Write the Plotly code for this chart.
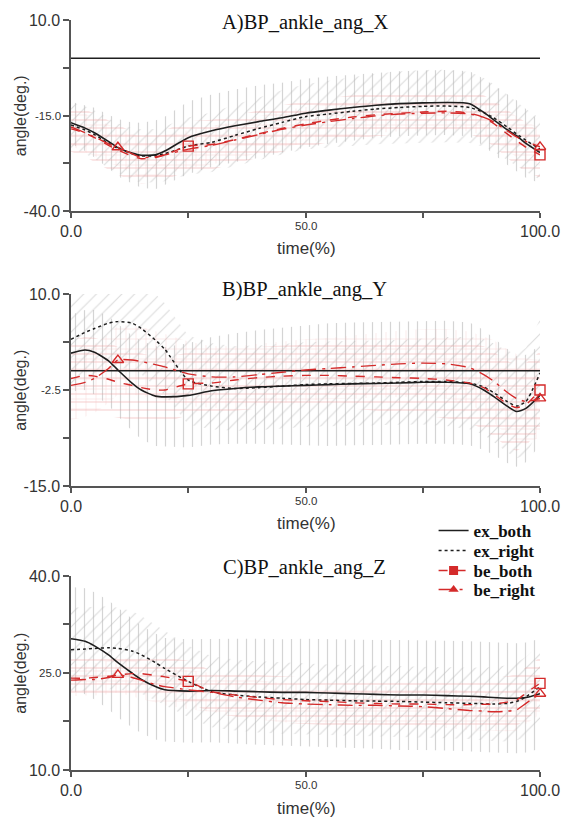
import plotly.graph_objects as go

# ---------------- data ----------------
T = [0, 3, 5, 8, 10, 13, 15, 18, 20, 25, 30, 35, 40, 45, 50, 55, 60, 65, 70, 75, 80, 85, 88, 90, 93, 95, 97, 100]

# Panel A : BP_ankle_ang_X
A_EX_BOTH = [-16.9, -18.3, -19.5, -21.8, -23.4, -24.8, -25.4, -25.3, -24.3, -20.8, -19.0, -17.7, -16.6, -15.6, -14.4, -13.6, -12.9, -12.3, -11.9, -11.7, -11.6, -11.9, -14.2, -16.0, -18.7, -20.3, -22.3, -24.7]
A_EX_RIGHT = [-17.5, -18.8, -20.0, -22.3, -23.6, -25.0, -25.6, -25.5, -25.0, -23.0, -22.0, -20.2, -18.4, -16.8, -15.3, -14.6, -13.9, -13.3, -12.9, -12.6, -12.5, -12.9, -14.2, -15.5, -18.0, -19.8, -21.5, -23.8]
A_BE_BOTH = [-18.5, -19.6, -20.8, -22.8, -24.0, -25.6, -26.3, -26.0, -25.3, -23.0, -22.6, -21.3, -19.8, -18.4, -17.2, -16.2, -15.4, -14.8, -14.4, -14.1, -13.9, -14.4, -15.5, -17.0, -19.8, -21.6, -23.3, -25.3]
A_BE_RIGHT = [-18.0, -19.5, -20.6, -22.4, -23.3, -25.0, -26.0, -25.8, -25.3, -23.8, -22.8, -21.4, -20.0, -18.6, -17.5, -16.6, -15.8, -15.1, -14.6, -14.4, -14.3, -14.6, -15.5, -16.6, -19.0, -20.6, -21.8, -23.2]
A_EX_BOTH_SD = [5.5, 6.0, 6.5, 7.0, 7.5, 8.0, 8.5, 9.0, 9.0, 9.5, 9.5, 9.5, 9.5, 9.2, 9.0, 8.8, 8.6, 8.5, 8.5, 8.5, 8.5, 8.5, 8.8, 9.0, 9.2, 9.3, 9.0, 8.0]
A_EX_RIGHT_SD = [6.0, 6.2, 6.3, 6.5, 6.5, 6.8, 7.0, 7.0, 7.2, 7.5, 7.8, 8.0, 8.2, 8.4, 8.5, 8.7, 9.0, 9.2, 9.4, 9.5, 9.5, 9.3, 9.0, 8.8, 8.5, 8.3, 8.2, 8.0]
A_BE_BOTH_SD = [6.0, 6.2, 6.3, 6.4, 6.5, 6.5, 6.5, 6.5, 6.5, 6.5, 6.5, 6.3, 6.2, 6.1, 6.0, 5.8, 5.7, 5.6, 5.5, 5.5, 5.5, 5.5, 5.8, 6.0, 6.3, 6.5, 6.3, 6.0]
A_BE_RIGHT_SD = [5.0, 5.0, 5.0, 5.0, 5.0, 5.2, 5.3, 5.3, 5.2, 5.0, 5.0, 5.0, 4.8, 4.8, 4.7, 4.6, 4.5, 4.5, 4.5, 4.5, 4.5, 4.6, 4.8, 5.0, 5.2, 5.3, 5.2, 5.0]

# Panel B : BP_ankle_ang_Y
B_EX_BOTH = [2.3, 2.7, 2.4, 1.3, 0.1, -1.6, -2.5, -3.3, -3.4, -3.2, -2.6, -2.3, -2.1, -2.0, -1.9, -1.8, -1.7, -1.65, -1.6, -1.5, -1.5, -1.7, -2.5, -3.3, -4.6, -5.3, -4.9, -3.2]
B_EX_RIGHT = [4.1, 5.0, 5.5, 6.2, 6.4, 6.2, 5.5, 4.0, 2.8, -1.2, -2.0, -2.3, -2.2, -2.0, -1.8, -1.7, -1.65, -1.6, -1.5, -1.4, -1.4, -1.6, -2.1, -2.8, -4.0, -4.6, -4.0, -0.3]
B_BE_BOTH = [-1.0, -0.6, -0.7, -1.1, -1.5, -1.9, -2.2, -2.5, -2.5, -1.7, -1.6, -1.2, -0.9, -0.7, -0.6, -0.6, -0.7, -0.8, -0.9, -1.0, -1.2, -1.6, -2.2, -3.0, -4.3, -4.8, -4.4, -2.5]
B_BE_RIGHT = [-1.9, -1.5, -1.0, 0.3, 1.4, 1.4, 1.2, 0.8, 0.5, -0.4, -0.8, -0.8, -0.5, -0.2, 0.1, 0.3, 0.5, 0.7, 0.9, 1.0, 0.9, 0.4, -0.5, -1.3, -2.8, -3.6, -4.0, -3.6]
B_EX_BOTH_SD = [5.0, 5.2, 5.5, 5.8, 6.0, 6.2, 6.4, 6.5, 6.5, 6.8, 7.0, 7.2, 7.4, 7.6, 7.8, 8.0, 8.0, 8.0, 8.0, 8.0, 8.0, 8.0, 7.8, 7.6, 7.4, 7.2, 7.0, 6.5]
B_EX_RIGHT_SD = [6.0, 6.0, 6.0, 6.0, 6.0, 6.0, 6.0, 6.0, 6.0, 5.8, 5.6, 5.5, 5.5, 5.5, 5.5, 5.5, 5.5, 5.5, 5.5, 5.6, 5.8, 6.0, 6.2, 6.4, 6.6, 6.8, 7.0, 7.0]
B_BE_BOTH_SD = [5.0, 5.0, 5.0, 4.8, 4.6, 4.5, 4.4, 4.3, 4.2, 4.1, 4.0, 4.0, 4.0, 4.0, 4.0, 4.1, 4.2, 4.4, 4.6, 4.8, 5.0, 5.2, 5.4, 5.5, 5.6, 5.6, 5.4, 5.0]
B_BE_RIGHT_SD = [4.5, 4.5, 4.5, 4.5, 4.5, 4.5, 4.5, 4.4, 4.3, 4.2, 4.0, 4.0, 4.0, 4.0, 4.0, 4.0, 4.1, 4.2, 4.3, 4.4, 4.5, 4.7, 5.0, 5.3, 5.6, 5.8, 5.6, 5.0]

# Panel C : BP_ankle_ang_Z
C_EX_BOTH = [30.3, 29.9, 29.2, 27.8, 26.6, 25.0, 24.0, 22.9, 22.4, 22.2, 22.3, 22.2, 22.1, 22.0, 22.0, 21.9, 21.8, 21.7, 21.6, 21.6, 21.5, 21.4, 21.3, 21.2, 21.1, 21.1, 21.2, 21.8]
C_EX_RIGHT = [28.6, 28.7, 28.8, 28.9, 28.8, 28.4, 27.8, 26.6, 25.7, 23.7, 22.1, 21.6, 21.3, 21.1, 20.9, 20.8, 20.7, 20.65, 20.6, 20.5, 20.4, 20.3, 20.25, 20.2, 20.3, 20.6, 21.3, 22.9]
C_BE_BOTH = [24.2, 24.2, 24.3, 24.5, 24.7, 24.9, 24.9, 24.6, 24.4, 23.7, 22.1, 21.6, 21.2, 20.9, 20.7, 20.6, 20.4, 20.3, 20.2, 20.2, 20.1, 20.1, 20.15, 20.2, 20.5, 20.8, 21.9, 23.4]
C_BE_RIGHT = [23.9, 24.0, 24.0, 24.3, 24.7, 24.3, 23.9, 23.2, 22.9, 22.4, 22.0, 21.3, 20.8, 20.4, 20.2, 20.1, 20.0, 20.0, 19.9, 19.8, 19.5, 19.2, 19.1, 19.0, 19.1, 19.3, 20.3, 21.8]
C_EX_BOTH_SD = [8.0, 8.2, 8.3, 8.4, 8.5, 8.4, 8.3, 8.2, 8.0, 8.0, 8.0, 8.1, 8.2, 8.2, 8.3, 8.3, 8.4, 8.4, 8.5, 8.5, 8.5, 8.5, 8.5, 8.5, 8.5, 8.5, 8.5, 8.5]
C_EX_RIGHT_SD = [6.5, 6.5, 6.5, 6.4, 6.3, 6.2, 6.0, 5.8, 5.7, 5.5, 5.5, 5.5, 5.5, 5.5, 5.5, 5.5, 5.5, 5.5, 5.5, 5.5, 5.5, 5.5, 5.6, 5.7, 5.9, 6.0, 6.2, 6.5]
C_BE_BOTH_SD = [3.0, 3.0, 3.0, 3.0, 3.0, 3.0, 3.0, 3.0, 3.0, 3.2, 3.3, 3.4, 3.5, 3.6, 3.6, 3.7, 3.8, 3.8, 3.9, 3.9, 4.0, 4.0, 4.0, 4.0, 4.0, 4.0, 4.0, 4.0]
C_BE_RIGHT_SD = [2.5, 2.5, 2.5, 2.6, 2.7, 2.8, 2.8, 2.8, 2.9, 3.0, 3.0, 3.0, 3.0, 3.0, 3.0, 3.0, 3.0, 3.0, 3.0, 3.0, 3.0, 3.0, 3.0, 3.0, 3.1, 3.2, 3.2, 3.2]

SERIES_NAMES = ["ex_both", "ex_right", "be_both", "be_right"]
PANEL_TITLES = ["A)BP_ankle_ang_X", "B)BP_ankle_ang_Y", "C)BP_ankle_ang_Z"]
Y_RANGES = [[-40, 10], [-15, 10], [10, 40]]
Y_TICKS = [[-40, 10], [-15, 10], [10, 40]]                      # large labels
Y_TICKTEXT = [["-40.0", "10.0"], ["-15.0", "10.0"], ["10.0", "40.0"]]
Y_MID_TICK = [-15, -2.5, 25]                                   # small middle label
Y_MID_TEXT = ["-15.0", "-2.5", "25.0"]
Y_MINOR_TICKS = [[-27.5, -15, -2.5], [-8.75, -2.5, 3.75], [17.5, 25, 32.5]]
X_TICKS = [0, 100]
X_TICKTEXT = ["0.0", "100.0"]
X_MID_TICK = 50
X_MID_TEXT = "50.0"
X_MINOR_TICKS = [25, 50, 75]
ZERO_LINE = [True, True, False]
BE_BOTH_MARK_T = [25, 100]
BE_RIGHT_MARK_T = [10, 100]

PANELS = [
    (A_EX_BOTH, A_EX_RIGHT, A_BE_BOTH, A_BE_RIGHT, A_EX_BOTH_SD, A_EX_RIGHT_SD, A_BE_BOTH_SD, A_BE_RIGHT_SD),
    (B_EX_BOTH, B_EX_RIGHT, B_BE_BOTH, B_BE_RIGHT, B_EX_BOTH_SD, B_EX_RIGHT_SD, B_BE_BOTH_SD, B_BE_RIGHT_SD),
    (C_EX_BOTH, C_EX_RIGHT, C_BE_BOTH, C_BE_RIGHT, C_EX_BOTH_SD, C_EX_RIGHT_SD, C_BE_BOTH_SD, C_BE_RIGHT_SD),
]

# ---------------- styles ----------------
RED = "#d42a2a"
BLACK = "#1e1e1e"
LINE_STYLES = [
    dict(color=BLACK, width=1.6, dash="solid"),
    dict(color=BLACK, width=1.5, dash="dot"),
    dict(color=RED, width=1.4, dash="dash"),
    dict(color=RED, width=1.4, dash="longdashdot"),
]
PATTERNS = [
    dict(shape="|", fgcolor="#a9a9a9", size=9, solidity=0.13),
    dict(shape="/", fgcolor="#b9b9b9", size=9, solidity=0.13),
    dict(shape="-", fgcolor="#ec9a9a", size=8, solidity=0.13),
    dict(shape="+", fgcolor="#f2b4b4", size=10, solidity=0.11),
]

FIG_W, FIG_H = 572, 819
ML, MR, MT, MB = 71, 25, 20, 49
PW = FIG_W - ML - MR
PH = FIG_H - MT - MB
DOMAINS = [[0.7453, 1.0], [0.3787, 0.6347], [0.0, 0.2587]]
AXIS_BOTTOM_PX = [211, 486, 770]


def px_x(px):
    return (px - ML) / PW


def px_y(py):
    return (FIG_H - MB - py) / PH


fig = go.Figure()

for p, data in enumerate(PANELS):
    xa = "x" if p == 0 else f"x{p + 1}"
    ya = "y" if p == 0 else f"y{p + 1}"
    means = data[:4]
    sds = data[4:]
    # hatched SD bands
    for k in range(4):
        upper = [m + s for m, s in zip(means[k], sds[k])]
        lower = [m - s for m, s in zip(means[k], sds[k])]
        pat = dict(PATTERNS[k])
        pat["bgcolor"] = "rgba(0,0,0,0)"
        fig.add_trace(go.Scatter(
            x=T + T[::-1], y=upper + lower[::-1], xaxis=xa, yaxis=ya,
            mode="lines", line=dict(width=0, color="rgba(0,0,0,0)"),
            fill="toself", fillcolor="rgba(0,0,0,0)", fillpattern=pat,
            showlegend=False, hoverinfo="skip",
        ))
    if ZERO_LINE[p]:
        fig.add_trace(go.Scatter(
            x=[T[0], T[-1]], y=[0, 0], xaxis=xa, yaxis=ya, mode="lines",
            line=dict(color=BLACK, width=1.5), showlegend=False, hoverinfo="skip",
        ))
    # mean curves
    for k in range(4):
        fig.add_trace(go.Scatter(
            x=T, y=means[k], xaxis=xa, yaxis=ya, mode="lines",
            line=dict(shape="spline", smoothing=0.6, **LINE_STYLES[k]),
            name=SERIES_NAMES[k], showlegend=False,
        ))
    # markers
    for k, marks, sym in [(2, BE_BOTH_MARK_T, "square-open"), (3, BE_RIGHT_MARK_T, "triangle-up-open")]:
        ys = [means[k][T.index(t)] for t in marks]
        fig.add_trace(go.Scatter(
            x=marks, y=ys, xaxis=xa, yaxis=ya, mode="markers",
            marker=dict(symbol=sym, size=10, color=RED, line=dict(color=RED, width=1.4)),
            cliponaxis=False, showlegend=False, hoverinfo="skip",
        ))

# legend proxies, one legend box per entry so that the rows sit tight
LEG_MARKERS = [None, None, "square", "triangle-up"]
LEG_Y_PX = [531, 551, 571, 590]
LEG_IDS = ["legend", "legend2", "legend3", "legend4"]
for k in range(4):
    kw = dict(mode="lines")
    if LEG_MARKERS[k]:
        kw = dict(mode="lines+markers", marker=dict(symbol=LEG_MARKERS[k], size=9, color=RED))
    fig.add_trace(go.Scatter(x=[None], y=[None], xaxis="x3", yaxis="y3", name=SERIES_NAMES[k],
                             line=LINE_STYLES[k], showlegend=True, legend=LEG_IDS[k], **kw))


TICKFONT = dict(family="Liberation Sans, Arial", size=16, color="#333")
SMALLFONT = dict(family="Liberation Sans, Arial", size=11.5, color="#333")
axis_common = dict(showline=True, linecolor="#555", linewidth=1.5, ticks="outside",
                   tickwidth=1.5, tickcolor="#555", showgrid=False, zeroline=False, tickfont=TICKFONT)

layout = dict(
    width=FIG_W, height=FIG_H,
    margin=dict(l=ML, r=MR, t=MT, b=MB),
    plot_bgcolor="white", paper_bgcolor="white",
    showlegend=True,
)
for k, lid in enumerate(LEG_IDS):
    layout[lid] = dict(x=px_x(439), y=px_y(LEG_Y_PX[k]), xanchor="left", yanchor="middle",
                       bgcolor="rgba(0,0,0,0)", borderwidth=0,
                       font=dict(family="Liberation Serif, Times New Roman", size=17, color="#111", weight="bold"))

annotations = []
TITLE_Y_PX = [22, 289, 567]
TIME_Y_PX = [248, 523, 808]
for p in range(3):
    sfx = "" if p == 0 else str(p + 1)
    xref = "x" + sfx
    yref = "y" + sfx
    layout["xaxis" + sfx] = dict(domain=[0, 1], anchor="y" + sfx, range=[0, 100], tickmode="array",
                                 tickvals=X_TICKS, ticktext=X_TICKTEXT, ticklen=5,
                                 minor=dict(tickmode="array", tickvals=X_MINOR_TICKS, ticks="outside",
                                            ticklen=5, tickwidth=1.5, tickcolor="#555", showgrid=False),
                                 **axis_common)
    layout["yaxis" + sfx] = dict(domain=DOMAINS[p], anchor="x" + sfx, range=Y_RANGES[p], tickmode="array",
                                 tickvals=Y_TICKS[p], ticktext=Y_TICKTEXT[p], ticklen=6,
                                 minor=dict(tickmode="array", tickvals=Y_MINOR_TICKS[p], ticks="outside",
                                            ticklen=6, tickwidth=1.5, tickcolor="#555", showgrid=False),
                                 **axis_common)
    # small middle tick labels
    annotations.append(dict(text=X_MID_TEXT, xref=xref, yref="paper", x=X_MID_TICK,
                            y=px_y(AXIS_BOTTOM_PX[p] + 15), xanchor="center", yanchor="middle",
                            showarrow=False, font=SMALLFONT))
    annotations.append(dict(text=Y_MID_TEXT[p], xref="paper", yref=yref, x=px_x(63), y=Y_MID_TICK[p],
                            xanchor="right", yanchor="middle", showarrow=False, font=SMALLFONT,
                            xshift=0))
    annotations.append(dict(text=PANEL_TITLES[p], xref="paper", yref="paper", x=px_x(308), y=px_y(TITLE_Y_PX[p]),
                            xanchor="center", yanchor="middle", showarrow=False,
                            font=dict(family="Liberation Serif, Times New Roman", size=20.5, color="#111")))
    annotations.append(dict(text="time(%)", xref="paper", yref="paper", x=px_x(310), y=px_y(TIME_Y_PX[p]),
                            xanchor="center", yanchor="middle", showarrow=False,
                            font=dict(family="Liberation Sans, Arial", size=17, color="#333")))
    annotations.append(dict(text="angle(deg.)", xref="paper", yref="paper", x=px_x(20),
                            y=sum(DOMAINS[p]) / 2, xanchor="center", yanchor="middle", textangle=-90,
                            showarrow=False, font=dict(family="Liberation Sans, Arial", size=16, color="#333")))
layout["annotations"] = annotations

fig.update_layout(**layout)
fig.write_html("out.html")
